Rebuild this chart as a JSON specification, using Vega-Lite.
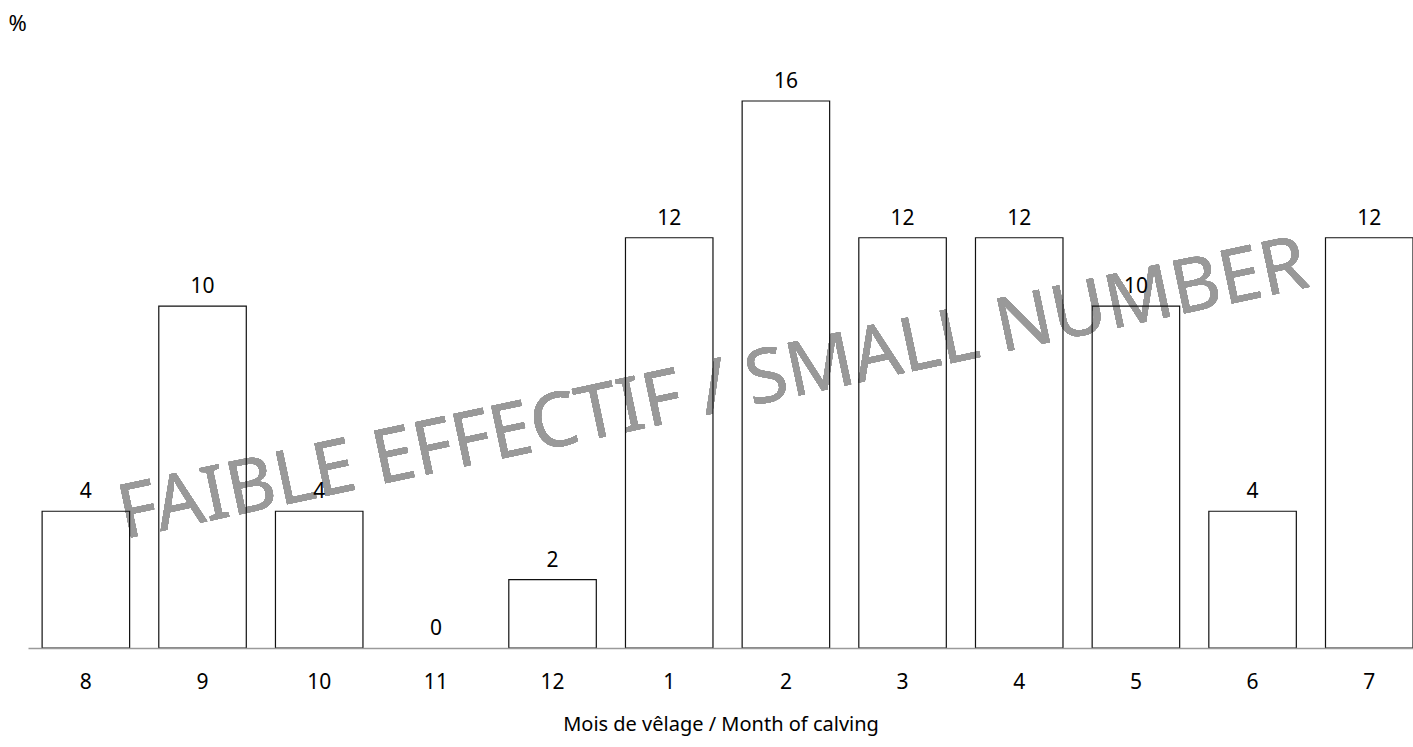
{
  "$schema": "https://vega.github.io/schema/vega-lite/v6.json",
  "autosize": {"type": "none"},
  "width": 1385,
  "height": 547,
  "padding": {"left": 28, "top": 101, "right": 0, "bottom": 99},
  "background": "white",
  "config": {
    "view": {"stroke": null},
    "font": "Noto Sans",
    "text": {"font": "Noto Sans"}
  },
  "data": {
    "values": [
      {"month": "8", "pct": 4},
      {"month": "9", "pct": 10},
      {"month": "10", "pct": 4},
      {"month": "11", "pct": 0},
      {"month": "12", "pct": 2},
      {"month": "1", "pct": 12},
      {"month": "2", "pct": 16},
      {"month": "3", "pct": 12},
      {"month": "4", "pct": 12},
      {"month": "5", "pct": 10},
      {"month": "6", "pct": 4},
      {"month": "7", "pct": 12}
    ]
  },
  "encoding": {
    "x": {
      "field": "month",
      "type": "nominal",
      "sort": ["8", "9", "10", "11", "12", "1", "2", "3", "4", "5", "6", "7"],
      "scale": {"paddingInner": 0.25, "paddingOuter": 0.0605, "align": 1},
      "axis": {
        "orient": "bottom",
        "domain": true,
        "domainColor": "#9a9a9a",
        "domainWidth": 1.5,
        "ticks": false,
        "grid": false,
        "labelAngle": 0,
        "labelFont": "Noto Sans",
        "labelFontSize": 21,
        "labelColor": "#000000",
        "labelPadding": 23,
        "title": "Mois de vêlage / Month of calving",
        "titleFont": "Noto Sans",
        "titleFontSize": 20,
        "titleFontWeight": "normal",
        "titleColor": "#000000",
        "titlePadding": 22,
        "zindex": 1
      }
    },
    "y": {
      "field": "pct",
      "type": "quantitative",
      "scale": {"domain": [0, 16], "nice": false, "zero": true},
      "axis": {
        "domain": false,
        "ticks": false,
        "labels": false,
        "grid": false,
        "title": "%",
        "titleAngle": 0,
        "titleX": -20,
        "titleY": -78,
        "titleAlign": "left",
        "titleBaseline": "middle",
        "titleFont": "Noto Sans",
        "titleFontSize": 22,
        "titleFontWeight": "normal",
        "titleColor": "#000000"
      }
    }
  },
  "layer": [
    {
      "mark": {
        "type": "text",
        "font": "Noto Sans",
        "fontSize": 75,
        "fontWeight": "normal",
        "color": "#999999",
        "angle": -12,
        "align": "center",
        "baseline": "alphabetic",
        "dx": -3
      },
      "encoding": {
        "x": {"value": {"expr": "width/2"}},
        "y": {"datum": 6.9},
        "text": {"value": "FAIBLE EFFECTIF / SMALL NUMBER"}
      }
    },
    {
      "transform": [{"filter": "datum.pct > 0"}],
      "mark": {"type": "bar", "fill": "transparent", "stroke": "#111111", "strokeWidth": 1.2, "clip": false}
    },
    {
      "mark": {"type": "text", "baseline": "alphabetic", "dy": -13, "fontSize": 21, "color": "#000000", "font": "Noto Sans"},
      "encoding": {"text": {"field": "pct", "type": "quantitative"}}
    }
  ]
}
